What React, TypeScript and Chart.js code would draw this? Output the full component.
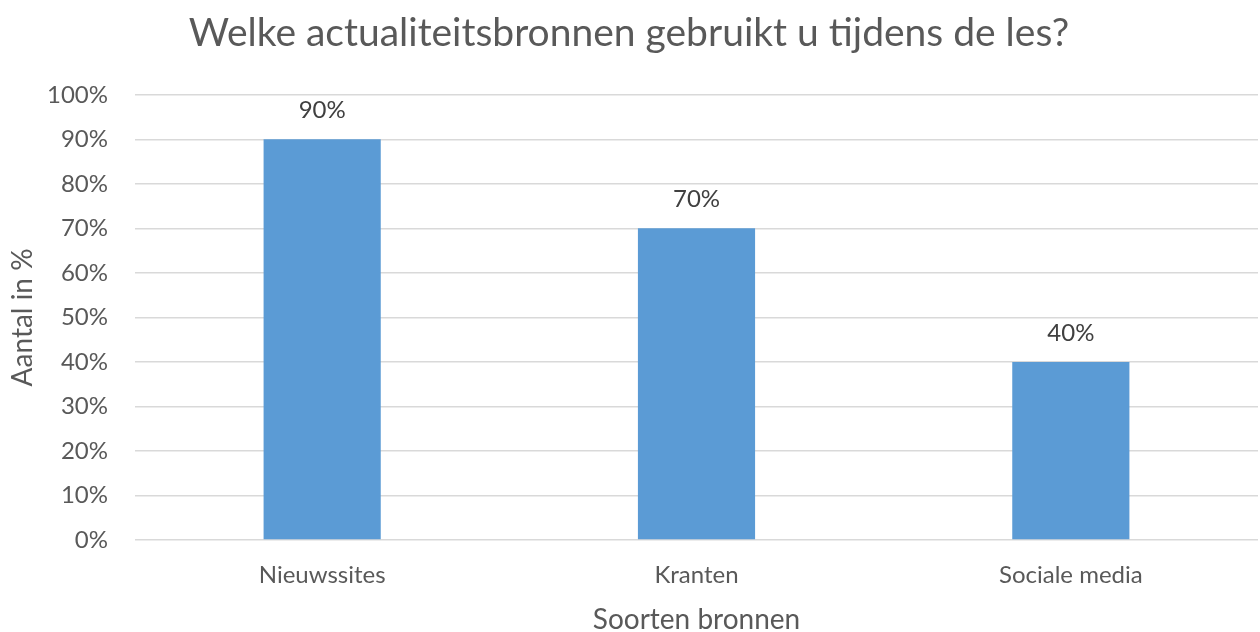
import React, { useEffect, useRef } from "react";
import { Chart, registerables } from "chart.js";

Chart.register(...registerables);

const title = "Welke actualiteitsbronnen gebruikt u tijdens de les?";
const categories = ["Nieuwssites", "Kranten", "Sociale media"];
const values = [90, 70, 40];
const yTicks = [0, 10, 20, 30, 40, 50, 60, 70, 80, 90, 100];
const xAxisTitle = "Soorten bronnen";
const yAxisTitle = "Aantal in %";

const FONT = "Lato, 'Open Sans', sans-serif";

const dataLabels = {
  id: "dataLabels",
  afterDatasetsDraw(chart: any) {
    const ctx = chart.ctx;
    const meta = chart.getDatasetMeta(0);
    ctx.save();
    ctx.font = `24px ${FONT}`;
    ctx.fillStyle = "#404040";
    ctx.textAlign = "center";
    ctx.textBaseline = "middle";
    meta.data.forEach((bar: any, i: number) => {
      ctx.fillText(`${values[i]}%`, bar.x, bar.y - 29);
    });
    ctx.restore();
  },
};

export default function App() {
  const ref = useRef<HTMLCanvasElement | null>(null);
  useEffect(() => {
    document.body.style.margin = "0";
    const canvas = ref.current!;
    const chart = new Chart(canvas, {
      type: "bar",
      data: {
        labels: categories,
        datasets: [
          {
            data: values,
            backgroundColor: "#5b9bd5",
            borderWidth: 0,
            barPercentage: 0.313,
            categoryPercentage: 1,
          },
        ],
      },
      options: {
        responsive: false,
        animation: false,
        layout: { padding: { left: 0, right: 2, top: 0, bottom: 0 } },
        plugins: {
          legend: { display: false },
          tooltip: { enabled: false },
          title: {
            display: true,
            text: title,
            color: "#595959",
            font: { family: FONT, size: 39, weight: "normal", lineHeight: 1.2 },
            padding: { top: 10, bottom: 38 },
          },
        },
        scales: {
          x: {
            grid: { display: false, drawTicks: false },
            border: { display: false },
            ticks: {
              color: "#595959",
              font: { family: FONT, size: 24 },
              padding: 21,
            },
            title: {
              display: true,
              text: xAxisTitle,
              color: "#595959",
              font: { family: FONT, size: 28, lineHeight: 0.86 },
              padding: { top: 0, bottom: 0 },
            },
            afterFit(scale: any) {
              scale.height = 92;
            },
          },
          y: {
            min: 0,
            max: 100,
            afterBuildTicks(scale: any) {
              scale.ticks = yTicks.map((v) => ({ value: v }));
            },
            grid: { color: "#d9d9d9", lineWidth: 1.5, drawTicks: false },
            border: { display: false },
            ticks: {
              color: "#595959",
              font: { family: FONT, size: 24 },
              padding: 27,
              callback: (v: any) => `${v}%`,
            },
            title: {
              display: true,
              text: yAxisTitle,
              color: "#595959",
              font: { family: FONT, size: 28, lineHeight: 1.2 },
              padding: { top: 6, bottom: 0 },
            },
            afterFit(scale: any) {
              scale.width = 135;
            },
          },
        },
      },
      plugins: [dataLabels],
    });
    return () => chart.destroy();
  }, []);
  return <canvas ref={ref} width={1260} height={632} style={{ display: "block" }} />;
}
